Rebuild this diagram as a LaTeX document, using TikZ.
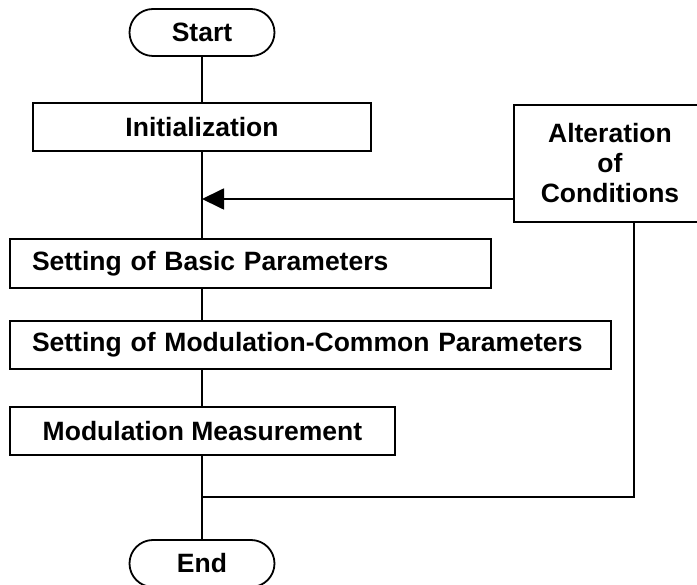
\documentclass[tikz,border=0pt]{standalone}
\usepackage{fontspec}
\setmainfont{Liberation Sans}
\usetikzlibrary{arrows.meta,shapes.misc}
\tikzset{
  >={Triangle[length=22pt,width=21pt]},
  term/.style={draw,line width=1.8pt,rounded rectangle,minimum width=145pt,minimum height=47pt,inner sep=0pt,font=\bfseries\fontsize{26.5}{30}\selectfont},
  box/.style={draw,line width=1.8pt,minimum height=48pt,inner sep=0pt,font=\bfseries\fontsize{26.5}{30}\selectfont},
  leftbox/.style={box,inner xsep=22pt,align=left},
  flow/.style={line width=1.8pt}
}

\begin{document}
\begin{tikzpicture}[x=1pt,y=-1pt]
  \useasboundingbox (0,0) rectangle (697,585);
  \node[term] (start) at (202,32.5) {Start};
  \node[box,minimum width=338pt] (init) at (202,127) {Initialization};
  \node[box,minimum width=192pt,minimum height=117pt,align=center] (alter) at (610,163.5) {Alteration\\of\\Conditions};
  \node[leftbox,text width=437pt,minimum height=49pt] (basic) at (250.5,263.5) {Setting of Basic Parameters};
  \node[leftbox,text width=557pt] (common) at (310.5,345) {Setting of Modulation-Common Parameters};
  \node[box,minimum width=385pt] (meas) at (202.5,431) {Modulation Measurement};
  \node[term] (end) at (202,563.5) {End};
  \coordinate (join) at (202,199);
  \coordinate (back) at (202,497);
  \coordinate (loop) at (634,0);
  \draw[flow] (start) -- (init);
  \draw[flow] (init.south) -- (init.south |- basic.north);
  \draw[flow] (start |- basic.south) -- (start |- common.north);
  \draw[flow] (start |- common.south) -- (start |- meas.north);
  \draw[flow] (start |- meas.south) -- (end);
  \draw[flow,->] (alter.west |- join) -- (join);
  \draw[flow] (loop |- alter.south) |- (back);
\end{tikzpicture}
\end{document}
